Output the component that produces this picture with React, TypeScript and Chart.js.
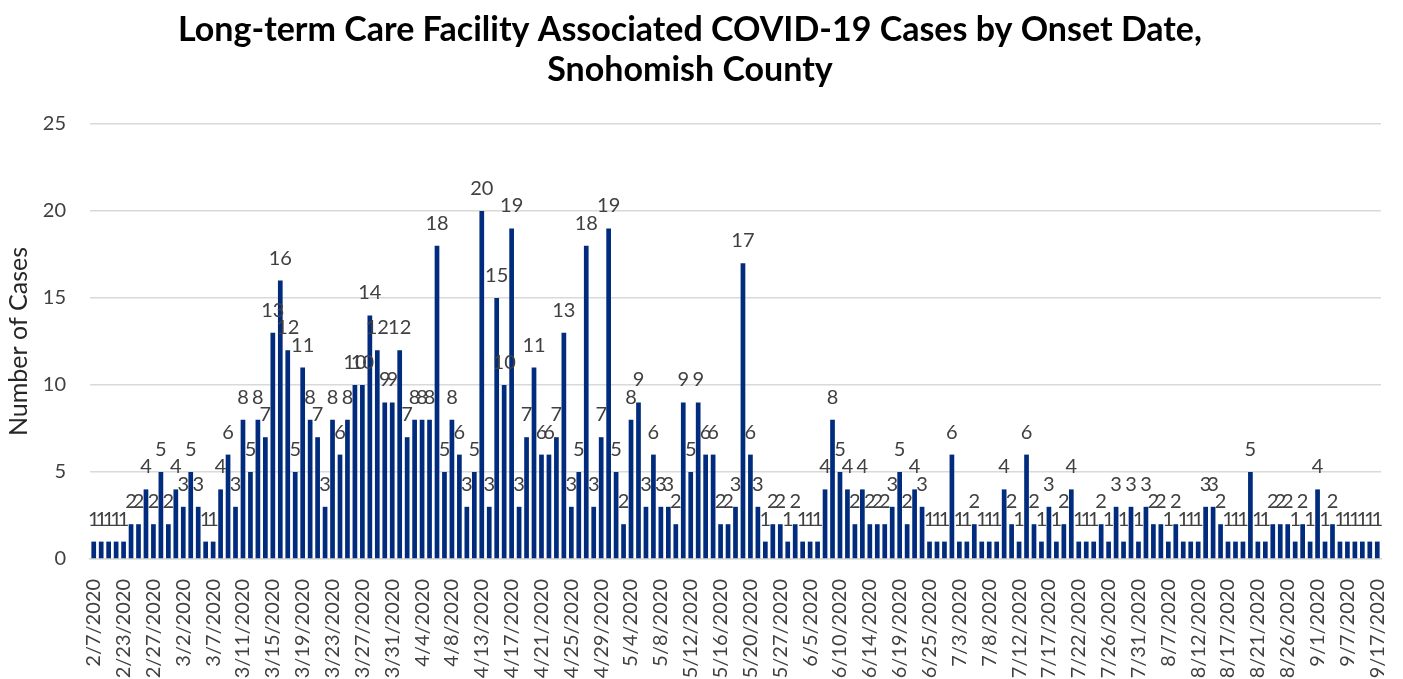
import React, { useEffect, useRef } from "react";
import { Chart, registerables } from "chart.js";

Chart.register(...registerables);

const TITLE_LINES = [
  "Long-term Care Facility Associated COVID-19 Cases by Onset Date,",
  "Snohomish County",
];
const Y_TITLE = "Number of Cases";
const YEAR = "2020";

// onset dates (month/day) — every 4th is shown on the axis
const onsetDays = [
  "2/7", "2/10", "2/15", "2/20",
  "2/23", "2/24", "2/25", "2/26",
  "2/27", "2/28", "2/29", "3/1",
  "3/2", "3/3", "3/4", "3/5",
  "3/7", "3/8", "3/9", "3/10",
  "3/11", "3/12", "3/13", "3/14",
  "3/15", "3/16", "3/17", "3/18",
  "3/19", "3/20", "3/21", "3/22",
  "3/23", "3/24", "3/25", "3/26",
  "3/27", "3/28", "3/29", "3/30",
  "3/31", "4/1", "4/2", "4/3",
  "4/4", "4/5", "4/6", "4/7",
  "4/8", "4/9", "4/10", "4/11",
  "4/13", "4/14", "4/15", "4/16",
  "4/17", "4/18", "4/19", "4/20",
  "4/21", "4/22", "4/23", "4/24",
  "4/25", "4/26", "4/27", "4/28",
  "4/29", "4/30", "5/1", "5/2",
  "5/4", "5/5", "5/6", "5/7",
  "5/8", "5/9", "5/10", "5/11",
  "5/12", "5/13", "5/14", "5/15",
  "5/16", "5/17", "5/18", "5/19",
  "5/20", "5/21", "5/22", "5/24",
  "5/27", "5/28", "5/30", "6/2",
  "6/5", "6/7", "6/8", "6/9",
  "6/10", "6/11", "6/12", "6/13",
  "6/14", "6/15", "6/16", "6/18",
  "6/19", "6/20", "6/22", "6/23",
  "6/25", "6/27", "6/29", "7/1",
  "7/3", "7/5", "7/6", "7/7",
  "7/8", "7/9", "7/10", "7/11",
  "7/12", "7/13", "7/14", "7/16",
  "7/17", "7/18", "7/20", "7/21",
  "7/22", "7/23", "7/24", "7/25",
  "7/26", "7/27", "7/28", "7/30",
  "7/31", "8/2", "8/4", "8/5",
  "8/7", "8/8", "8/10", "8/11",
  "8/12", "8/13", "8/14", "8/16",
  "8/17", "8/18", "8/19", "8/20",
  "8/21", "8/22", "8/24", "8/25",
  "8/26", "8/27", "8/29", "8/31",
  "9/1", "9/2", "9/4", "9/5",
  "9/7", "9/9", "9/11", "9/14",
  "9/17",
];

const cases = [
  1, 1, 1, 1, 1, 2, 2, 4, 2, 5, 2, 4, 3, 5, 3, 1, 1, 4, 6, 3, 8, 5, 8, 7, 13, 16, 12, 5, 11, 8,
  7, 3, 8, 6, 8, 10, 10, 14, 12, 9, 9, 12, 7, 8, 8, 8, 18, 5, 8, 6, 3, 5, 20, 3, 15, 10, 19, 3, 7,
  11, 6, 6, 7, 13, 3, 5, 18, 3, 7, 19, 5, 2, 8, 9, 3, 6, 3, 3, 2, 9, 5, 9, 6, 6, 2, 2, 3, 17,
  6, 3, 1, 2, 2, 1, 2, 1, 1, 1, 4, 8, 5, 4, 2, 4, 2, 2, 2, 3, 5, 2, 4, 3, 1, 1, 1, 6, 1,
  1, 2, 1, 1, 1, 4, 2, 1, 6, 2, 1, 3, 1, 2, 4, 1, 1, 1, 2, 1, 3, 1, 3, 1, 3, 2, 2, 1, 2,
  1, 1, 1, 3, 3, 2, 1, 1, 1, 5, 1, 1, 2, 2, 2, 1, 2, 1, 4, 1, 2, 1, 1, 1, 1, 1, 1,
];

const Y_MIN = 0;
const Y_MAX = 25;
const Y_STEP = 5;
const LABEL_EVERY = 4;

const FONT = "Lato, 'Open Sans', sans-serif";

export default function App() {
  const ref = useRef<HTMLCanvasElement>(null);

  useEffect(() => {
    if (!ref.current) return;
    const labels = onsetDays.map((d) => `${d}/${YEAR}`);

    const titlePlugin = {
      id: "twoLineTitle",
      afterDraw(chart: any) {
        const ctx = chart.ctx;
        ctx.save();
        ctx.font = `bold 34px ${FONT}`;
        ctx.fillStyle = "#000000";
        ctx.textAlign = "center";
        ctx.textBaseline = "middle";
        ctx.fillText(TITLE_LINES[0], 690, 30);
        ctx.fillText(TITLE_LINES[1], 690, 70);
        ctx.restore();
      },
    };

    const valueLabelPlugin = {
      id: "valueLabels",
      afterDatasetsDraw(chart: any) {
        const ctx = chart.ctx;
        const meta = chart.getDatasetMeta(0);
        ctx.save();
        ctx.font = `20px ${FONT}`;
        ctx.fillStyle = "#404040";
        ctx.textAlign = "center";
        ctx.textBaseline = "alphabetic";
        meta.data.forEach((bar: any, i: number) => {
          ctx.fillText(String(cases[i]), bar.x, bar.y - 16);
        });
        ctx.restore();
      },
    };

    const chart = new Chart(ref.current, {
      type: "bar",
      data: {
        labels,
        datasets: [
          {
            data: cases,
            backgroundColor: "#012B7D",
            borderWidth: 0,
            categoryPercentage: 1,
            barPercentage: 0.63,
          },
        ],
      },
      options: {
        animation: false,
        responsive: false,
        devicePixelRatio: 1,
        layout: { padding: { top: 124, right: 22, left: 0, bottom: 0 } },
        plugins: {
          legend: { display: false },
          title: { display: false },
          tooltip: { enabled: false },
        },
        scales: {
          x: {
            grid: { display: false },
            border: { display: true, color: "#d9d9d9", width: 1.5 },
            ticks: {
              autoSkip: false,
              maxRotation: 90,
              minRotation: 90,
              padding: 12,
              color: "#404040",
              font: { family: FONT, size: 20 },
              callback: (_v: any, i: number) => (i % LABEL_EVERY === 0 ? labels[i] : ""),
            },
            afterFit: (scale: any) => {
              scale.height = 120;
              scale.paddingLeft = 0;
              scale.paddingRight = 0;
            },
          },
          y: {
            min: Y_MIN,
            max: Y_MAX,
            grid: { color: "#d9d9d9", lineWidth: 1.5, drawTicks: false },
            border: { display: false },
            ticks: {
              stepSize: Y_STEP,
              padding: 24,
              color: "#404040",
              font: { family: FONT, size: 20 },
            },
            title: {
              display: true,
              text: Y_TITLE,
              color: "#262626",
              font: { family: FONT, size: 25 },
              padding: { top: 4, bottom: 0 },
            },
            afterFit: (scale: any) => {
              scale.width = 90;
            },
          },
        },
      },
      plugins: [titlePlugin, valueLabelPlugin],
    });

    return () => chart.destroy();
  }, []);

  return (
    <div style={{ position: "absolute", left: 0, top: 0, width: 1403, height: 679 }}>
      <canvas ref={ref} width={1403} height={679} style={{ display: "block" }} />
    </div>
  );
}
